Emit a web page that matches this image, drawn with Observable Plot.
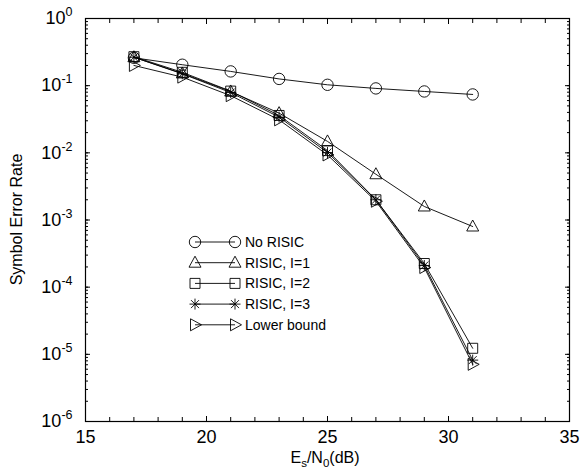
<!DOCTYPE html>
<html><head><meta charset="utf-8">
<script src="https://cdn.jsdelivr.net/npm/d3@7"></script>
<script src="https://cdn.jsdelivr.net/npm/@observablehq/plot@0.6"></script>
<style>html,body{margin:0;padding:0;background:#fff}#chart{width:588px;height:473px}</style>
</head><body><div id="chart"></div>
<script>
// ---- data ----
const snr = [17, 19, 21, 23, 25, 27, 29, 31];
const noRisic    = [0.26, 0.205, 0.163, 0.126, 0.103, 0.091, 0.082, 0.074];
const risic1     = [0.265, 0.152, 0.082, 0.039, 0.0148, 0.0048, 0.00159, 0.00080];
const risic2     = [0.27, 0.158, 0.083, 0.036, 0.0108, 0.0020, 0.000225, 0.0000123];
const risic3     = [0.265, 0.150, 0.079, 0.034, 0.0101, 0.0020, 0.00021, 0.0000082];
const lowerBound = [0.20, 0.134, 0.071, 0.031, 0.0093, 0.0019, 0.000196, 0.0000071];
const seriesNames = ["No RISIC", "RISIC, I=1", "RISIC, I=2", "RISIC, I=3", "Lower bound"];
const xTicks = [15, 20, 25, 30, 35];
const xMinorTicks = [15,16,17,18,19,20,21,22,23,24,25,26,27,28,29,30,31,32,33,34,35];
const yTickExponents = [0, -1, -2, -3, -4, -5, -6];

const seriesValues = [noRisic, risic1, risic2, risic3, lowerBound];
const rows = seriesNames.flatMap((name, i) => seriesValues[i].map((v, j) => ({snr: snr[j], ser: v, series: name})));
const yMajor = yTickExponents.map(e => Math.pow(10, e));
const yMinor = d3.scaleLog().domain([1e-6, 1]).ticks();

// ---- marker symbols ----
const symCircle = {draw(c) { c.moveTo(5.7, 0); c.arc(0, 0, 5.7, 0, 2 * Math.PI); }};
const symTriUp = {draw(c) { c.moveTo(0, -6.5); c.lineTo(6, 4.5); c.lineTo(-6, 4.5); c.closePath(); }};
const symSquare = {draw(c) { c.rect(-5, -5, 10, 10); }};
const symStar = {draw(c) {
  c.moveTo(-5.5, 0); c.lineTo(5.5, 0); c.moveTo(0, -5.5); c.lineTo(0, 5.5);
  c.moveTo(-4, -4); c.lineTo(4, 4); c.moveTo(-4, 4); c.lineTo(4, -4);
}};
const symTriRight = {draw(c) { c.moveTo(6.5, 0); c.lineTo(-4.5, -6); c.lineTo(-4.5, 6); c.closePath(); }};
const symbols = [symCircle, symTriUp, symSquare, symStar, symTriRight];

const font = "'Liberation Sans', Arial, Helvetica, sans-serif";

const plot = Plot.plot({
  width: 588, height: 473,
  marginLeft: 85, marginRight: 19, marginTop: 18, marginBottom: 52,
  style: {fontFamily: font, background: "white", color: "black", overflow: "visible"},
  x: {domain: [15, 35]},
  y: {type: "log", domain: [1e-6, 1]},
  marks: [
    // inward ticks on all four sides
    Plot.axisX({anchor: "bottom", ticks: xMinorTicks, tickSize: -4, fill: "none", label: null}),
    Plot.axisX({anchor: "top", ticks: xMinorTicks, tickSize: -4, fill: "none", label: null}),
    Plot.axisX({anchor: "bottom", ticks: xTicks, tickSize: -5, fill: "none", label: null}),
    Plot.axisX({anchor: "top", ticks: xTicks, tickSize: -5, fill: "none", label: null}),
    Plot.axisY({anchor: "left", ticks: yMinor, tickSize: -3, fill: "none", label: null}),
    Plot.axisY({anchor: "right", ticks: yMinor, tickSize: -3, fill: "none", label: null}),
    Plot.axisY({anchor: "left", ticks: yMajor, tickSize: -5, fill: "none", label: null}),
    Plot.axisY({anchor: "right", ticks: yMajor, tickSize: -5, fill: "none", label: null}),
    // tick labels
    Plot.axisX({anchor: "bottom", ticks: xTicks, tickSize: 0, tickPadding: 9, fontSize: 18, label: null, tickFormat: d => String(d)}),
    Plot.axisY({anchor: "left", ticks: yMajor, tickSize: 0, tickPadding: 13, fontSize: 18, label: null,
      tickFormat: d => String(Math.round(Math.log10(d)))}),
    Plot.frame({stroke: "black", strokeWidth: 1.2}),
    // series
    Plot.line(rows, {x: "snr", y: "ser", z: "series", stroke: "black", strokeWidth: 0.9}),
    ...seriesNames.map((name, i) => Plot.dot(rows.filter(r => r.series === name),
      {x: "snr", y: "ser", symbol: symbols[i], r: 5, stroke: "black", strokeWidth: 0.9, fill: "none"}))
  ]
});

const svg = d3.select(plot);

// superscript exponents on the y tick labels
svg.selectAll('g[aria-label="y-axis tick label"] text').each(function () {
  const e = this.textContent;
  const t = d3.select(this);
  t.text("10");
  t.append("tspan").attr("dy", -8).attr("font-size", 12.5).text(e);
});

// axis titles
svg.append("text")
  .attr("transform", "translate(22,219.5) rotate(-90)")
  .attr("text-anchor", "middle")
  .attr("font-family", font).attr("font-size", 16).attr("fill", "black")
  .text("Symbol Error Rate");

const xl = svg.append("text")
  .attr("x", 325).attr("y", 463)
  .attr("text-anchor", "middle")
  .attr("font-family", font).attr("font-size", 16).attr("fill", "black");
xl.append("tspan").text("E");
xl.append("tspan").attr("dy", 4).attr("font-size", 11.5).text("s");
xl.append("tspan").attr("dy", -4).text("/N");
xl.append("tspan").attr("dy", 4).attr("font-size", 11.5).text("0");
xl.append("tspan").attr("dy", -4).text("(dB)");

// legend
const lg = svg.append("g").attr("font-family", font).attr("font-size", 14).attr("fill", "black")
  .attr("text-anchor", "start");
seriesNames.forEach((name, i) => {
  const y = 242 + i * 20.7;
  lg.append("line").attr("x1", 195).attr("x2", 235).attr("y1", y).attr("y2", y)
    .attr("stroke", "black").attr("stroke-width", 0.9);
  const p = d3.path(); symbols[i].draw(p);
  [195, 235].forEach(x => lg.append("path").attr("d", p.toString())
    .attr("transform", `translate(${x},${y})`)
    .attr("fill", "none").attr("stroke", "black").attr("stroke-width", 0.9));
  lg.append("text").attr("x", 245).attr("y", y).attr("dy", "0.35em").attr("text-anchor", "start").text(name);
});

document.getElementById("chart").appendChild(plot);
</script>
</body></html>
